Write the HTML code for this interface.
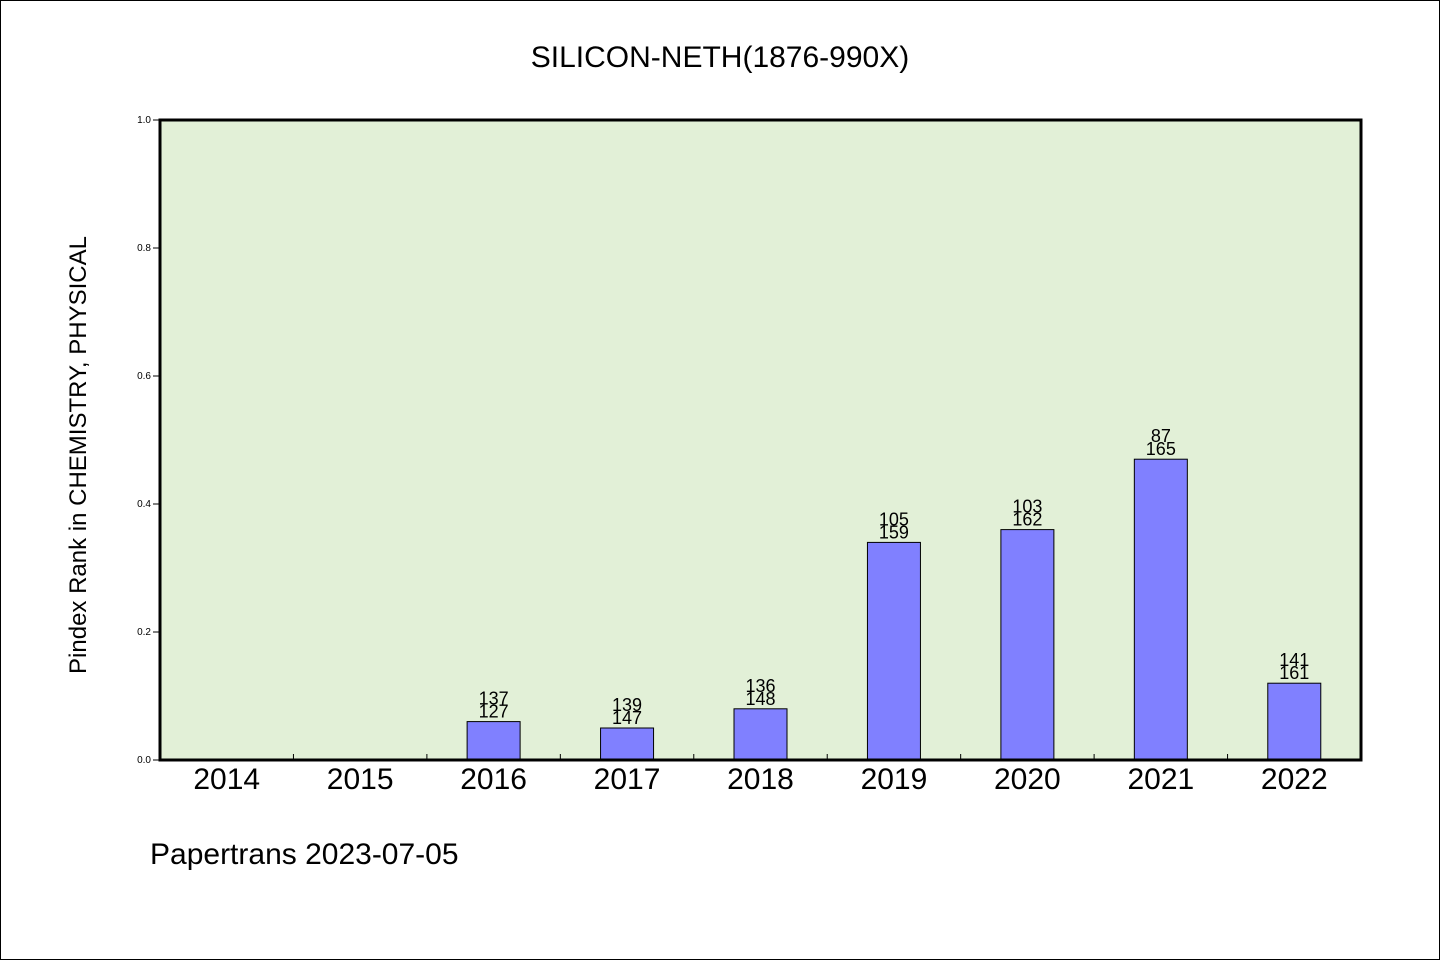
<!DOCTYPE html>
<html><head><meta charset="utf-8"><style>
body{margin:0;background:#fff}
svg text{font-family:"WenQuanYi Zen Hei","Liberation Sans",sans-serif}
</style></head><body>
<svg width="1440" height="960" xmlns="http://www.w3.org/2000/svg">
<rect x="0.5" y="0.5" width="1439" height="959" fill="#fff" stroke="#000"/>
<text x="720" y="67" font-size="30" text-anchor="middle">SILICON-NETH(1876-990X)</text>
<rect x="160" y="120" width="1201" height="640" fill="#e2f0d7"/>
<g id="marks"></g>
<rect x="160" y="120" width="1201" height="640" fill="none" stroke="#000" stroke-width="3"/>
<text transform="translate(86,455) rotate(-90)" font-size="24" text-anchor="middle">Pindex Rank in CHEMISTRY, PHYSICAL</text>
<text x="150" y="864" font-size="30">Papertrans 2023-07-05</text>
<script>
const categories=["2014","2015","2016","2017","2018","2019","2020","2021","2022"];
const values=[null,null,0.06,0.05,0.08,0.34,0.36,0.47,0.12];
const ranks=[null,null,"137","139","136","105","103","87","141"];
const totals=[null,null,"127","147","148","159","162","165","161"];
const yTicks=["0.0","0.2","0.4","0.6","0.8","1.0"];
const NS="http://www.w3.org/2000/svg";
const x0=160,x1=1361,y0=760,y1=120;
const bw=(x1-x0)/categories.length;
const xs=i=>x0+bw*(i+0.5);
const ys=v=>y0-(v)*(y0-y1);
const g=document.getElementById('marks');
function mk(t,a){const e=document.createElementNS(NS,t);for(const k in a)e.setAttribute(k,a[k]);g.appendChild(e);return e;}
yTicks.forEach(t=>{const y=ys(parseFloat(t));
const l=mk('line',{x1:153,x2:160,y1:y,y2:y,stroke:'#000'});


const tx=mk('text',{x:151,y:y+3,'font-size':10,'text-anchor':'end'});tx.textContent=t;

});
categories.forEach((c,i)=>{
if(i>0){const l=mk('line',{x1:x0+bw*i,x2:x0+bw*i,y1:y0,y2:y0-6,stroke:'#000'});

}
const t=mk('text',{x:xs(i),y:789,'font-size':30,'text-anchor':'middle'});t.textContent=c;


const v=values[i];if(v==null)return;
const r=mk('rect',{x:xs(i)-26.5,y:ys(v),width:53,height:y0-ys(v),fill:'#8080ff',stroke:'#000'});


const a=mk('text',{x:xs(i),y:ys(v)-17,'font-size':18,'text-anchor':'middle'});a.textContent=ranks[i];


const b=mk('text',{x:xs(i),y:ys(v)-4,'font-size':18,'text-anchor':'middle'});b.textContent=totals[i];


});
</script>
</svg>
</body></html>
